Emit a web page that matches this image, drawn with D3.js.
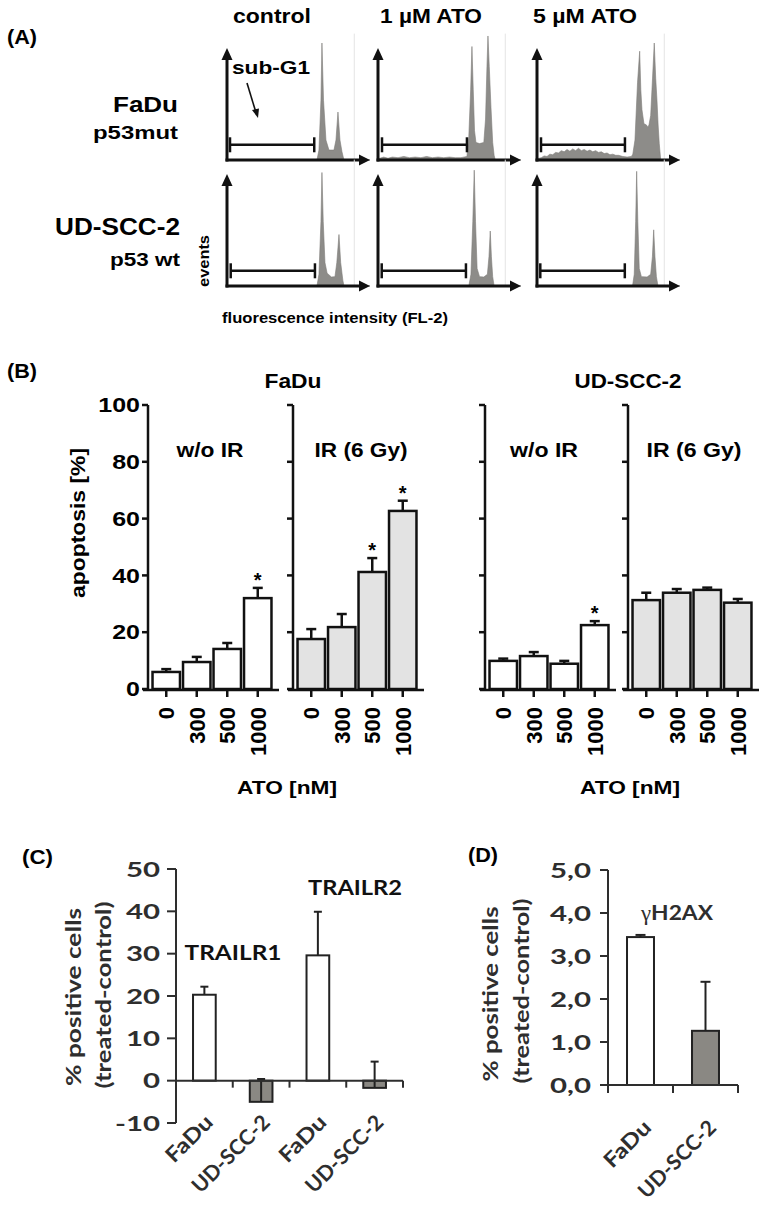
<!DOCTYPE html>
<html><head><meta charset="utf-8">
<script src="https://cdn.jsdelivr.net/npm/d3@7"></script>
<style>body{margin:0;background:#fff}svg{display:block}</style>
</head><body><svg id="c" width="766" height="1211"></svg>
<script>
// ================= DATA =================
// Panel A: DNA histograms, points are [FL-2 channel (0-100), relative events]
const histConditions = ['control', '1 µM ATO', '5 µM ATO'];
const histCellLines = [['FaDu', 'p53mut'], ['UD-SCC-2', 'p53 wt']];
const histFaDuControl = [[0,0],[62.9,0],[64.3,8.5],[65.7,51],[66.4,100],[67.5,51],[69.2,17],[71.3,8.5],[74.8,8.5],[76.2,17],[77.6,41],[79,17],[80.4,7],[81.8,0],[100,0]];
const histFaDu1uM = [[0,1],[4,2.5],[7,1.5],[10,2.5],[14,2],[18,3],[22,2],[26,2.5],[30,2],[34,3],[38,2],[42,2.5],[46,2],[50,2.5],[54,2],[58,2],[62.2,3],[63.5,20],[64.8,60],[65.7,97],[66.6,60],[67.5,25],[68.5,15],[71,14],[74,15],[75.2,35],[76.2,80],[76.9,106],[77.8,80],[79,45],[80.2,15],[81.2,4],[82,0],[100,0]];
const histFaDu5uM = [[0,1],[3,2],[5,3.5],[7,3],[9,5],[11,4.5],[13,6.5],[15,6],[17,8],[19,7],[21,9],[23,7.5],[25,9.5],[27,8],[29,10],[31,8],[33,9],[35,7.5],[37,8.5],[39,7],[41,8],[43,6.5],[45,7],[47,5.5],[49,6],[51,4.5],[53,5],[55,4],[57,4],[60,3],[63,2.5],[66,3],[67,5],[68.5,17],[70.3,66],[71.8,93],[72.6,60],[73.4,43],[74.8,31],[76.5,30],[77.5,28],[78.3,30],[79.5,38],[80.8,70],[82,100],[83,70],[83.9,51],[84.7,30],[85.5,14],[86.5,0],[100,0]];
const histUDControl = [[0,0],[62.9,0],[64.3,10],[65.7,55],[66.4,97],[67.3,55],[68.5,20],[70,11],[73,7.7],[75.5,8],[76.8,20],[78.3,44],[79.5,20],[81,5],[81.8,0],[100,0]];
const histUD1uM = [[0,0],[63.5,0],[65,10],[66.3,55],[67.3,99],[68.2,55],[69.3,15],[71,8],[74,7.7],[76.5,10],[77.6,25],[78.5,47],[79.3,25],[80.2,8],[81.2,0],[100,0]];
const histUD5uM = [[0,0],[66.8,0],[68,10],[69,55],[69.7,98],[70.5,55],[71.5,15],[73,8],[77,7.7],[79.5,10],[80.7,25],[81.6,48],[82.5,25],[83.5,8],[84.6,0],[100,0]];
const gateFaDu = [[2.1, 61], [2.8, 62.2], [2.8, 61.5]];
const gateUD = [[2.6, 61.5], [2.6, 61.5], [2.3, 61.4]];

// Panel B: apoptosis [%]
const atoDoses = ['0', '300', '500', '1000'];
const bTicks = [0, 20, 40, 60, 80, 100];
const apoFaDuNoIR = [6.0, 9.5, 14.1, 32.0];
const apoFaDuNoIRErr = [1.0, 1.8, 2.1, 3.6];
const apoFaDuNoIRSig = [0, 0, 0, 1];
const apoFaDuIR = [17.6, 21.8, 41.2, 62.7];
const apoFaDuIRErr = [3.5, 4.6, 4.9, 3.6];
const apoFaDuIRSig = [0, 0, 1, 1];
const apoUDNoIR = [9.9, 11.6, 8.9, 22.5];
const apoUDNoIRErr = [0.8, 1.4, 1.0, 1.4];
const apoUDNoIRSig = [0, 0, 0, 1];
const apoUDIR = [31.3, 33.9, 34.9, 30.4];
const apoUDIRErr = [2.6, 1.3, 0.8, 1.3];
const apoUDIRSig = [0, 0, 0, 0];

// Panel C: TRAILR1 / TRAILR2
const cCategories = ['FaDu', 'UD-SCC-2', 'FaDu', 'UD-SCC-2'];
const cValues = [20.3, -5.0, 29.6, -1.7];
const cErrors = [1.9, 5.4, 10.3, 6.2];
const cTicks = [-10, 0, 10, 20, 30, 40, 50];

// Panel D: gammaH2AX
const dCategories = ['FaDu', 'UD-SCC-2'];
const dValues = [3.44, 1.26];
const dErrors = [0.05, 1.14];
const dTicks = [0, 1, 2, 3, 4, 5];

// ================= HELPERS =================
const svg = d3.select('#c');
const ARIAL = '"Liberation Sans", Arial, sans-serif';
const LATO = 'Lato, "Open Sans", sans-serif';
function T(parent, str, x, y, o = {}) {
  const t = parent.append('text')
    .attr('transform', `translate(${x},${y})` + (o.rot ? ` rotate(${o.rot})` : '') + (o.sx ? ` scale(${o.sx},1)` : ''))
    .attr('text-anchor', o.anchor || 'start')
    .style('font-family', o.fam || ARIAL)
    .style('font-weight', o.weight || 'bold')
    .style('font-size', (o.size || 20) + 'px')
    .attr('fill', o.fill || '#000')
    .text(str);
  if (o.dy) t.attr('dy', o.dy);
  if (o.w) t.attr('textLength', o.w).attr('lengthAdjust', 'spacingAndGlyphs');
  return t;
}

// ================= PANEL A =================
T(svg, '(A)', 7, 44, {size: 20, w: 30});
const titleX = [272, 431, 585], titleW = [78, 102, 104];
histConditions.forEach((c, i) => T(svg, c, titleX[i], 23, {anchor: 'middle', size: 21, w: titleW[i]}));
T(svg, histCellLines[0][0], 178, 112, {anchor: 'end', size: 22, w: 65});
T(svg, histCellLines[0][1], 178, 139, {anchor: 'end', size: 19, w: 85});
T(svg, histCellLines[1][0], 180, 235, {anchor: 'end', size: 23, w: 125});
T(svg, histCellLines[1][1], 180, 266, {anchor: 'end', size: 19, w: 70});
T(svg, 'events', 209, 261, {rot: -90, anchor: 'middle', size: 14, w: 52});
T(svg, 'fluorescence intensity (FL-2)', 222, 323, {size: 15.5, w: 226});
T(svg, 'sub-G1', 232, 74, {size: 19, w: 78});

const hists = [[histFaDuControl, histFaDu1uM, histFaDu5uM], [histUDControl, histUD1uM, histUD5uM]];
const gates = [gateFaDu, gateUD];
const colX = [227, 378, 537];
const rowBase = [160, 286];
const hx = d3.scaleLinear().domain([0, 100]).range([0, 143]);
const hy = d3.scaleLinear().domain([0, 100]).range([0, -117]);
const area = d3.area().x(d => hx(d[0])).y0(0).y1(d => hy(d[1]));
hists.forEach((row, r) => row.forEach((h, c) => {
  const g = svg.append('g').attr('transform', `translate(${colX[c]},${rowBase[r]})`);
  g.append('line').attr('x1', hx(89)).attr('x2', hx(89)).attr('y1', 0).attr('y2', hy(108))
    .attr('stroke', '#e4e4e4').attr('stroke-width', 1);
  g.append('path').attr('d', area(h)).attr('fill', '#8d8c89').attr('stroke', '#7d7c79').attr('stroke-width', 0.6);
  // axes with arrowheads
  g.append('line').attr('x1', 0).attr('x2', 0).attr('y1', 1.5).attr('y2', -102).attr('stroke', '#111').attr('stroke-width', 3);
  g.append('path').attr('d', 'M-5.5,-100L5.5,-100L0,-112Z').attr('fill', '#111');
  g.append('line').attr('x1', -1.5).attr('x2', hx(100) - 9).attr('y1', 0).attr('y2', 0).attr('stroke', '#111').attr('stroke-width', 3);
  g.append('path').attr('d', `M${hx(100) - 11},-5.5L${hx(100) - 11},5.5L${hx(100)},0Z`).attr('fill', '#111');
  // sub-G1 gate
  const [a, b] = gates[r][c];
  const gy = hy(13);
  g.append('line').attr('x1', hx(a)).attr('x2', hx(b)).attr('y1', gy).attr('y2', gy).attr('stroke', '#111').attr('stroke-width', 2.5);
  [a, b].forEach(v => g.append('line').attr('x1', hx(v)).attr('x2', hx(v)).attr('y1', gy - 7.5).attr('y2', gy + 7.5).attr('stroke', '#111').attr('stroke-width', 2.5));
}));
// sub-G1 arrow
svg.append('line').attr('x1', 247).attr('y1', 83).attr('x2', 255.5).attr('y2', 111).attr('stroke', '#111').attr('stroke-width', 1.6);
svg.append('path').attr('d', 'M252,110L259,108.5L258,118Z').attr('fill', '#111');

// ================= PANEL B =================
T(svg, '(B)', 7, 378, {size: 20, w: 30});
T(svg, 'FaDu', 293, 388, {anchor: 'middle', size: 20, w: 57});
T(svg, 'UD-SCC-2', 628, 388, {anchor: 'middle', size: 20, w: 107});
T(svg, 'apoptosis [%]', 85, 523, {rot: -90, anchor: 'middle', size: 21, w: 150});
T(svg, 'ATO [nM]', 287, 794, {anchor: 'middle', size: 19, w: 100});
T(svg, 'ATO [nM]', 630, 794, {anchor: 'middle', size: 19, w: 100});

const yB = d3.scaleLinear().domain([0, 100]).range([689, 405]);
const bPanels = [
  {x: 148, v: apoFaDuNoIR, e: apoFaDuNoIRErr, s: apoFaDuNoIRSig, fill: '#ffffff', title: 'w/o IR', tx: 210, tw: 67, labels: true},
  {x: 293, v: apoFaDuIR, e: apoFaDuIRErr, s: apoFaDuIRSig, fill: '#e3e3e3', title: 'IR (6 Gy)', tx: 361, tw: 93},
  {x: 485, v: apoUDNoIR, e: apoUDNoIRErr, s: apoUDNoIRSig, fill: '#ffffff', title: 'w/o IR', tx: 544, tw: 68},
  {x: 628, v: apoUDIR, e: apoUDIRErr, s: apoUDIRSig, fill: '#e3e3e3', title: 'IR (6 Gy)', tx: 694, tw: 95}
];
bPanels.forEach(p => {
  const g = svg.append('g');
  const xb = d3.scaleBand().domain(atoDoses).range([p.x + 3, p.x + 125]).paddingInner(0.1).paddingOuter(0.05);
  T(g, p.title, p.tx, 457, {anchor: 'middle', size: 20, w: p.tw});
  atoDoses.forEach((d, i) => {
    const cx = xb(d) + xb.bandwidth() / 2;
    g.append('rect').attr('x', xb(d)).attr('y', yB(p.v[i])).attr('width', xb.bandwidth())
      .attr('height', yB(0) - yB(p.v[i])).attr('fill', p.fill).attr('stroke', '#111').attr('stroke-width', 2.5);
    const et = yB(p.v[i] + p.e[i]);
    g.append('line').attr('x1', cx).attr('x2', cx).attr('y1', yB(p.v[i])).attr('y2', et).attr('stroke', '#111').attr('stroke-width', 2.5);
    g.append('line').attr('x1', cx - 5).attr('x2', cx + 5).attr('y1', et).attr('y2', et).attr('stroke', '#111').attr('stroke-width', 2.5);
    if (p.s[i]) T(g, '*', cx, et - 1, {anchor: 'middle', size: 20});
    g.append('line').attr('x1', cx).attr('x2', cx).attr('y1', yB(0) + 1).attr('y2', yB(0) + 8).attr('stroke', '#111').attr('stroke-width', 2.5);
    T(g, d, cx + 8, 707, {rot: -90, anchor: 'end', size: 22});
  });
  g.append('line').attr('x1', p.x).attr('x2', p.x).attr('y1', yB(0) + 1).attr('y2', yB(100)).attr('stroke', '#111').attr('stroke-width', 2.5);
  bTicks.forEach(t => {
    g.append('line').attr('x1', p.x - 6).attr('x2', p.x).attr('y1', yB(t)).attr('y2', yB(t)).attr('stroke', '#111').attr('stroke-width', 2.5);
    if (p.labels) T(g, String(t), p.x - 8, yB(t), {anchor: 'end', size: 20, sx: 1.25, dy: '0.36em'});
  });
  g.append('line').attr('x1', p.x - 5).attr('x2', p.x + 131).attr('y1', yB(0) + 1).attr('y2', yB(0) + 1).attr('stroke', '#111').attr('stroke-width', 2.5);
});

// ================= PANEL C =================
T(svg, '(C)', 22, 864, {size: 20, w: 31});
const CD = '#2e2e2e';
const yC = d3.scaleLinear().domain([-10, 50]).range([1123, 869]);
const xC = d3.scaleBand().domain(d3.range(cCategories.length)).range([176, 403]).paddingInner(0.6).paddingOuter(0.3);
const gC = svg.append('g');
T(gC, '% positive cells', 81, 997, {rot: -90, anchor: 'middle', size: 21, fam: LATO, fill: CD, w: 178});
T(gC, '(treated-control)', 111, 995, {rot: -90, anchor: 'middle', size: 21, fam: LATO, fill: CD, w: 187});
T(gC, 'TRAILR1', 233, 960, {anchor: 'middle', size: 21, fam: LATO, fill: '#111', w: 97});
T(gC, 'TRAILR2', 355, 895, {anchor: 'middle', size: 21, fam: LATO, fill: '#111', w: 94});
cCategories.forEach((c, i) => {
  const v = cValues[i], e = cErrors[i];
  const cx = xC(i) + xC.bandwidth() / 2;
  gC.append('rect').attr('x', xC(i)).attr('y', yC(Math.max(v, 0))).attr('width', xC.bandwidth())
    .attr('height', Math.abs(yC(v) - yC(0))).attr('fill', v < 0 ? '#8a8883' : '#fff').attr('stroke', '#222').attr('stroke-width', 2);
  gC.append('line').attr('x1', cx).attr('x2', cx).attr('y1', yC(v)).attr('y2', yC(v + e)).attr('stroke', '#222').attr('stroke-width', 2);
  gC.append('line').attr('x1', cx - 4).attr('x2', cx + 4).attr('y1', yC(v + e)).attr('y2', yC(v + e)).attr('stroke', '#222').attr('stroke-width', 2);
  T(gC, c, cx + 10, yC(0) + 43, {rot: -45, anchor: 'end', size: 21, fam: LATO, fill: CD, w: c.length > 4 ? 100 : 57});
});
gC.append('line').attr('x1', 176).attr('x2', 176).attr('y1', yC(-10)).attr('y2', yC(50)).attr('stroke', CD).attr('stroke-width', 2);
cTicks.forEach(t => {
  gC.append('line').attr('x1', 167).attr('x2', 176).attr('y1', yC(t)).attr('y2', yC(t)).attr('stroke', CD).attr('stroke-width', 2);
  T(gC, String(t), 160, yC(t), {anchor: 'end', size: 21, fam: LATO, fill: CD, sx: 1.4, dy: '0.36em'});
});
gC.append('line').attr('x1', 176).attr('x2', 403).attr('y1', yC(0)).attr('y2', yC(0)).attr('stroke', CD).attr('stroke-width', 2);
d3.range(1, cCategories.length + 1).forEach(i => {
  const bx = 176 + i * xC.step();
  gC.append('line').attr('x1', bx).attr('x2', bx).attr('y1', yC(0)).attr('y2', yC(0) + 7).attr('stroke', CD).attr('stroke-width', 2);
});

// ================= PANEL D =================
T(svg, '(D)', 468, 862, {size: 20, w: 30});
const yD = d3.scaleLinear().domain([0, 5]).range([1085, 870]);
const xD = d3.scaleBand().domain(d3.range(dCategories.length)).range([608, 738]).paddingInner(0.585).paddingOuter(0.2925);
const gD = svg.append('g');
T(gD, '% positive cells', 498, 994, {rot: -90, anchor: 'middle', size: 21, fam: LATO, fill: CD, w: 175});
T(gD, '(treated-control)', 529, 991, {rot: -90, anchor: 'middle', size: 21, fam: LATO, fill: CD, w: 185});
const gt = gD.append('text').attr('x', 677).attr('y', 920).attr('text-anchor', 'middle')
  .style('font-size', '21px').attr('fill', CD).attr('textLength', 72).attr('lengthAdjust', 'spacingAndGlyphs');
gt.append('tspan').style('font-family', '"Liberation Serif", "DejaVu Serif", serif').text('γ');
gt.append('tspan').style('font-family', LATO).style('font-weight', 'bold').text('H2AX');
dCategories.forEach((c, i) => {
  const v = dValues[i], e = dErrors[i];
  const cx = xD(i) + xD.bandwidth() / 2;
  gD.append('rect').attr('x', xD(i)).attr('y', yD(v)).attr('width', xD.bandwidth())
    .attr('height', yD(0) - yD(v)).attr('fill', i === 0 ? '#fff' : '#8a8883').attr('stroke', '#222').attr('stroke-width', 2);
  gD.append('line').attr('x1', cx).attr('x2', cx).attr('y1', yD(v)).attr('y2', yD(v + e)).attr('stroke', '#222').attr('stroke-width', 2);
  gD.append('line').attr('x1', cx - 5).attr('x2', cx + 5).attr('y1', yD(v + e)).attr('y2', yD(v + e)).attr('stroke', '#222').attr('stroke-width', 2);
  T(gD, c, cx + 12, yD(0) + 44, {rot: -45, anchor: 'end', size: 21, fam: LATO, fill: CD, w: c.length > 4 ? 100 : 57});
});
gD.append('line').attr('x1', 608).attr('x2', 608).attr('y1', yD(0) + 8).attr('y2', yD(5)).attr('stroke', CD).attr('stroke-width', 2);
dTicks.forEach(t => {
  gD.append('line').attr('x1', 600).attr('x2', 608).attr('y1', yD(t)).attr('y2', yD(t)).attr('stroke', CD).attr('stroke-width', 2);
  T(gD, d3.format('.1f')(t).replace('.', ','), 591, yD(t), {anchor: 'end', size: 21, fam: LATO, fill: CD, sx: 1.4, dy: '0.36em'});
});
gD.append('line').attr('x1', 600).attr('x2', 738).attr('y1', yD(0)).attr('y2', yD(0)).attr('stroke', CD).attr('stroke-width', 2);
d3.range(1, dCategories.length + 1).forEach(i => {
  const bx = 608 + i * xD.step();
  gD.append('line').attr('x1', bx).attr('x2', bx).attr('y1', yD(0)).attr('y2', yD(0) + 8).attr('stroke', CD).attr('stroke-width', 2);
});
</script></body></html>
